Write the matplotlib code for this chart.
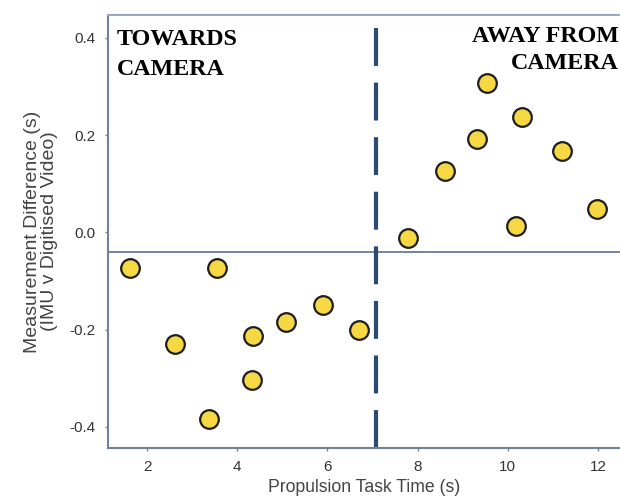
import matplotlib.pyplot as plt

# propulsion task time (s) and IMU minus digitised video difference (s)
task_time = [1.62, 3.56, 2.62, 3.38, 4.36, 4.33, 5.09, 5.91, 6.71,
             7.78, 8.6, 9.31, 9.53, 10.31, 10.18, 11.2, 11.98]
difference = [-0.074, -0.074, -0.23, -0.384, -0.213, -0.304, -0.185, -0.15, -0.201,
              -0.012, 0.127, 0.191, 0.308, 0.238, 0.014, 0.168, 0.049]

mean_diff = -0.04
split_time = 7.07

x_ticks = [2, 4, 6, 8, 10, 12]
y_ticks = [-0.4, -0.2, 0.0, 0.2, 0.4]

fig = plt.figure(figsize=(6.2, 4.96), dpi=100)
ax = fig.add_axes([0.174, 0.097, 0.826, 0.873])

axis_col = "#71819b"
ax.axhline(mean_diff, color="#5d6f8c", lw=1.2, zorder=1)
ax.axvline(split_time, color="#2b4a70", lw=3, dashes=(9.1, 4.0), zorder=1)

ax.scatter(task_time, difference, s=180, color="#f6d842",
           edgecolors="#1e1e1e", linewidths=1.6, zorder=3)

ax.set_xlim(1.13, 12.49)
ax.set_ylim(-0.443, 0.447)
ax.set_xticks(x_ticks)
ax.set_yticks(y_ticks)
ax.set_yticklabels([f"{v:.1f}" for v in y_ticks])

for side in ["left", "bottom"]:
    ax.spines[side].set_color(axis_col)
    ax.spines[side].set_linewidth(1.5)
ax.spines["top"].set_color("#9aa8bd")
ax.spines["top"].set_linewidth(1.5)
ax.spines["right"].set_visible(False)
ax.tick_params(length=2, width=1, color=axis_col, labelsize=11,
               labelcolor="#333333", pad=7)

ax.set_xlabel("Propulsion Task Time (s)", fontsize=12.7, color="#444444",
              family="Liberation Sans", labelpad=3)
ax.set_ylabel("Measurement Difference (s)\n(IMU v Digitised Video)",
              fontsize=14, color="#444444", family="Liberation Sans",
              labelpad=8, linespacing=1.0)
for lbl in ax.get_xticklabels() + ax.get_yticklabels():
    lbl.set_family("Liberation Sans")

ax.text(117 / 620, 1 - 29 / 496, "TOWARDS\nCAMERA", transform=fig.transFigure,
        family="Liberation Serif", weight="bold", fontsize=17.3,
        va="top", ha="left", linespacing=1.55)
ax.text(472 / 620, 1 - 26 / 496, "AWAY FROM\nCAMERA", transform=fig.transFigure,
        family="Liberation Serif", weight="bold", fontsize=17.3,
        va="top", ha="left", multialignment="right", linespacing=1.35,
        clip_on=False)

fig.savefig("out.png", dpi=100)
